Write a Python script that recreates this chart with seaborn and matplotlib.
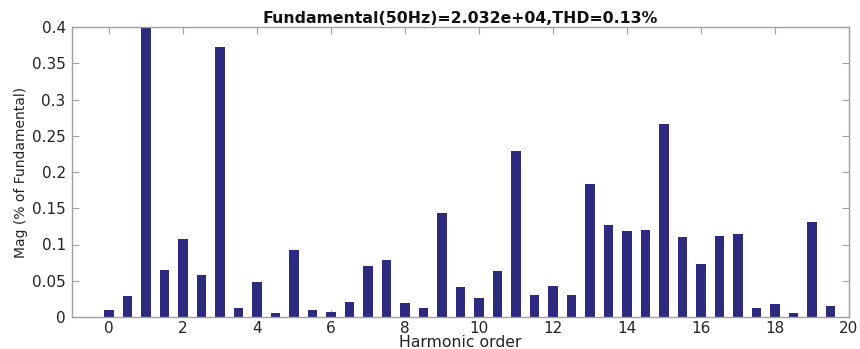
import matplotlib
matplotlib.use("Agg")
import matplotlib.pyplot as plt
import numpy as np
import pandas as pd
import seaborn as sns

# ---- data ----
harmonic_order = [0, 0.5, 1, 1.5, 2, 2.5, 3, 3.5, 4, 4.5,
                  5, 5.5, 6, 6.5, 7, 7.5, 8, 8.5, 9, 9.5,
                  10, 10.5, 11, 11.5, 12, 12.5, 13, 13.5, 14, 14.5,
                  15, 15.5, 16, 16.5, 17, 17.5, 18, 18.5, 19, 19.5]
magnitude = [0.0097, 0.029, 0.45, 0.065, 0.108, 0.058, 0.372, 0.013, 0.048, 0.006,
             0.093, 0.0097, 0.0064, 0.021, 0.070, 0.078, 0.019, 0.013, 0.144, 0.041,
             0.026, 0.064, 0.229, 0.030, 0.043, 0.030, 0.183, 0.127, 0.119, 0.120,
             0.266, 0.111, 0.0736, 0.112, 0.115, 0.013, 0.0175, 0.006, 0.131, 0.015]
x_ticks = [0, 2, 4, 6, 8, 10, 12, 14, 16, 18, 20]
x_tick_labels = ["0", "2", "4", "6", "8", "10", "12", "14", "16", "18", "20"]
y_ticks = [0, 0.05, 0.1, 0.15, 0.2, 0.25, 0.3, 0.35, 0.4]
y_tick_labels = ["0", "0.05", "0.1", "0.15", "0.2", "0.25", "0.3", "0.35", "0.4"]
title_text = "Fundamental(50Hz)=2.032e+04,THD=0.13%"
x_label = "Harmonic order"
y_label = "Mag (% of Fundamental)"

df = pd.DataFrame({"order": harmonic_order, "mag": magnitude})

sns.set_style("white")
plt.rcParams["font.family"] = ["DejaVu Sans"]

fig = plt.figure(figsize=(8.6, 3.49), dpi=100)
ax = fig.add_axes([72 / 860, 1 - 317 / 349, (849 - 72) / 860, (317 - 27) / 349])

bar_color = "#2e2a7f"
sns.barplot(data=df, x="order", y="mag", native_scale=True, width=0.53,
            color=bar_color, saturation=1, errorbar=None, ax=ax,
            edgecolor=bar_color, linewidth=0)

ax.set_xlim(-1, 20)
ax.set_ylim(0, 0.4)
ax.set_xticks(x_ticks)
ax.set_xticklabels(x_tick_labels)
ax.set_yticks(y_ticks)
ax.set_yticklabels(y_tick_labels)

spine_col = "#a0a0a0"
for s in ax.spines.values():
    s.set_visible(True)
    s.set_color(spine_col)
    s.set_linewidth(1.0)

ax.tick_params(axis="both", which="major", direction="in", length=5, width=0.8,
               color=spine_col, labelsize=11, labelcolor="#222222",
               top=True, right=True, bottom=True, left=True)
ax.tick_params(axis="y", pad=4.5)
ax.tick_params(axis="x", pad=3)

ax.set_title(title_text, fontsize=11.3, fontweight="bold", pad=3, color="#111111")
ax.set_xlabel(x_label, fontsize=11.3, labelpad=-0.8, color="#222222")
ax.set_ylabel(y_label, fontsize=10, labelpad=3, color="#222222")

fig.savefig("out.png", dpi=100, facecolor="white")
